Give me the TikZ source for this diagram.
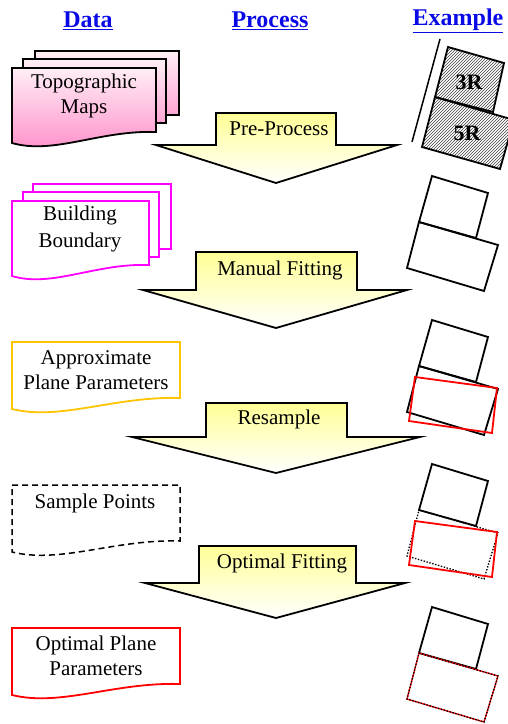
\documentclass[tikz,border=0pt]{standalone}
\usepackage{fontspec}
\setmainfont{Liberation Serif}
\usetikzlibrary{patterns}

\definecolor{headblue}{RGB}{10,10,230}
\definecolor{mapspink}{RGB}{255,140,200}
\definecolor{mapstop}{RGB}{255,238,246}
\definecolor{bndmagenta}{RGB}{255,0,255}
\definecolor{apxorange}{RGB}{255,196,0}
\definecolor{arrowyellow}{RGB}{255,255,150}

% outline of a data sheet: left x, top y, right x, lower left y
\newcommand{\docpath}[4]{(#1,#2) -- (#3,#2) -- (#3,{#4-11}) .. controls ({#3-0.39*(#3-#1)},{#4-13}) and ({#1+0.29*(#3-#1)},{#4+12}) .. (#1,#4) -- cycle}

\tikzset{
  every node/.style={font=\fontsize{21}{25}\selectfont, align=center, inner sep=0pt},
  header/.style={font=\fontsize{24}{28}\selectfont\bfseries, text=headblue},
  sheet/.style={line width=1.8pt},
  mapsheet/.style={sheet, draw=black, top color=mapstop, bottom color=mapspink},
  procarrow/.style={draw, line width=1.8pt, top color=arrowyellow, bottom color=white},
  roof/.style={line width=1.8pt},
  fitted/.style={line width=1.8pt, draw=red},
  dotline/.style={line width=1.3pt, dash pattern=on 1.4pt off 1.6pt},
  tag/.style={font=\fontsize{22}{24}\selectfont\bfseries}
}

\begin{document}
\begin{tikzpicture}[x=1pt, y=-1pt]
\useasboundingbox (0,0) rectangle (507,724);

% column heads
\node at (88,21) [name=hdata, header] {\underline{Data}};
\node at (270,21) [name=hproc, header] {\underline{Process}};
\node at (458,21) [name=hexmp, header] {\underline{Example}};

% data column
\draw [mapsheet] \docpath{35}{51}{179}{126};
\draw [mapsheet] \docpath{23}{59}{166}{134};
\draw [mapsheet] \docpath{12}{68}{156}{143};
\node at (84,96) [name=maps] {Topographic\\Maps};

\draw [sheet, draw=bndmagenta, fill=white] \docpath{33}{184}{171}{260};
\draw [sheet, draw=bndmagenta, fill=white] \docpath{23}{192}{159}{268};
\draw [sheet, draw=bndmagenta, fill=white] \docpath{12}{201}{149}{276};
\node at (80,229) [name=bound, font=\fontsize{21}{26.5}\selectfont] {Building\\Boundary};

\draw [sheet, draw=apxorange] \docpath{12}{342}{180}{409};
\node at (96,370) [name=approx] {Approximate\\Plane Parameters};

\draw [sheet, line width=1.5pt, dash pattern=on 6pt off 4pt] \docpath{12}{485}{180}{552};
\node at (95,503) [name=samples] {Sample Points};

\draw [sheet, draw=red] \docpath{12}{628}{180}{695};
\node at (96,656) [name=optimal] {Optimal Plane\\Parameters};

% process column
\draw [procarrow] (216,113) -- (336,113) -- (336,145) -- (397,145) -- (276,183) -- (156,145) -- (216,145) -- cycle;
\node at (279,129) [name=pre] {Pre-Process};
\draw [procarrow] (196,252) -- (357,252) -- (357,290) -- (407,290) -- (276,328) -- (143,290) -- (196,290) -- cycle;
\node at (280,270) [name=manual] {Manual Fitting};
\draw [procarrow] (206,403) -- (347,403) -- (347,437) -- (420,437) -- (276,473) -- (132,437) -- (206,437) -- cycle;
\node at (279,419) [name=resample] {Resample};
\draw [procarrow] (199,546) -- (356,546) -- (356,583) -- (405,583) -- (276,618) -- (145,583) -- (199,583) -- cycle;
\node at (282,563) [name=optfit] {Optimal Fitting};

% example column
\draw [line width=1.5pt] (440,39) -- (412,142);
\draw [roof, pattern=north east lines, pattern color=black!75] (435,97) -- (514,120) -- (500,169) -- (422,147) -- cycle;
\draw [roof, pattern=north east lines, pattern color=black!75] (448,47) -- (504,63) -- (493,112) -- (435,97) -- cycle;
\node at (469,82) [name=three, tag] {3R};
\node at (467,133) [name=five, tag] {5R};

\draw [roof] (432,176) -- (488,193) -- (476,238) -- (419,222) -- cycle;
\draw [roof] (419,222) -- (498,245) -- (484,291) -- (407,268) -- cycle;

\begin{scope}[shift={(0,144)}]
\draw [roof] (432,176) -- (488,193) -- (476,238) -- (419,222) -- cycle;
\draw [roof] (419,222) -- (498,245) -- (484,291) -- (407,268) -- cycle;
\draw [fitted] (415,233) -- (497,244) -- (492,289) -- (409,277) -- cycle;
\end{scope}

\begin{scope}[shift={(0,288)}]
\draw [roof] (432,176) -- (488,193) -- (476,238) -- (419,222) -- cycle;
\draw [dotline] (419,222) -- (498,245) -- (484,291) -- (407,268) -- cycle;
\draw [fitted] (415,233) -- (497,244) -- (492,289) -- (409,277) -- cycle;
\end{scope}

\begin{scope}[shift={(0,431)}]
\draw [roof] (432,176) -- (488,193) -- (476,238) -- (419,222) -- cycle;
\draw [line width=1.3pt, draw=red] (419,222) -- (498,245) -- (484,291) -- (407,268) -- cycle;
\draw [dotline] (419,222) -- (498,245) -- (484,291) -- (407,268) -- cycle;
\end{scope}
\end{tikzpicture}
\end{document}
